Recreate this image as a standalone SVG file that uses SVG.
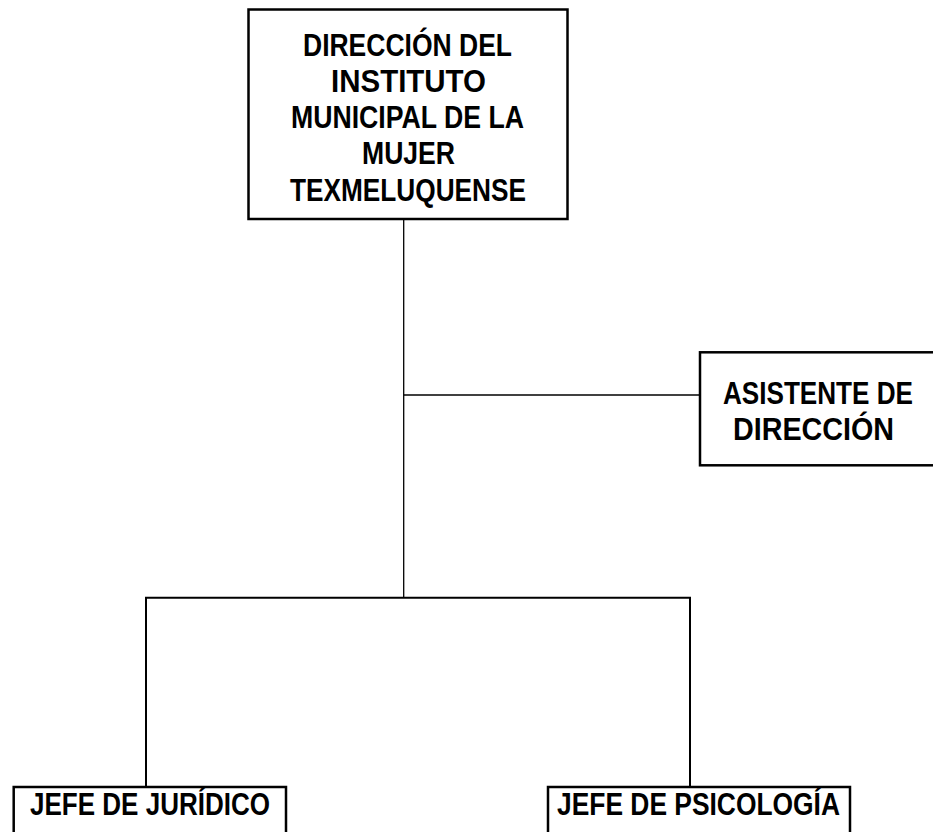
<svg xmlns="http://www.w3.org/2000/svg" width="933" height="832" viewBox="0 0 933 832">
<style>
.box{fill:#fff;stroke:#000;stroke-width:2.5}
.t{font-family:"Liberation Sans",Arial,sans-serif;font-weight:bold;font-size:31.5px;fill:#000}
.thin{stroke:#000;stroke-width:1.3;fill:none}
.thick{stroke:#000;stroke-width:2;fill:none}
</style>
<rect width="933" height="832" fill="#fff"/>
<g id="connectors">
<line class="thin" x1="403.7" y1="219" x2="403.7" y2="597.7"/>
<line class="thin" x1="403.7" y1="395" x2="700" y2="395"/>
<polyline class="thick" points="146,787 146,597.7 690,597.7 690,787"/>
</g>
<g id="direccion">
<rect class="box" x="248.5" y="9.5" width="319" height="209.5"/>
<text class="t" x="303" y="56" textLength="209" lengthAdjust="spacingAndGlyphs">DIRECCIÓN DEL</text>
<text class="t" x="331" y="92" textLength="155" lengthAdjust="spacingAndGlyphs">INSTITUTO</text>
<text class="t" x="291" y="128" textLength="233" lengthAdjust="spacingAndGlyphs">MUNICIPAL DE LA</text>
<text class="t" x="362" y="164" textLength="93" lengthAdjust="spacingAndGlyphs">MUJER</text>
<text class="t" x="290" y="201" textLength="236" lengthAdjust="spacingAndGlyphs">TEXMELUQUENSE</text>
</g>
<g id="asistente">
<rect class="box" x="700" y="352.3" width="260" height="113"/>
<text class="t" x="723" y="404" textLength="190" lengthAdjust="spacingAndGlyphs">ASISTENTE DE</text>
<text class="t" x="733" y="440" textLength="161" lengthAdjust="spacingAndGlyphs">DIRECCIÓN</text>
</g>
<g id="juridico">
<rect class="box" x="13.7" y="787" width="272.3" height="80"/>
<text class="t" x="30" y="815" textLength="240" lengthAdjust="spacingAndGlyphs">JEFE DE JURÍDICO</text>
</g>
<g id="psicologia">
<rect class="box" x="548" y="787" width="302" height="80"/>
<text class="t" x="557" y="815" textLength="283" lengthAdjust="spacingAndGlyphs">JEFE DE PSICOLOGÍA</text>
</g>
</svg>
